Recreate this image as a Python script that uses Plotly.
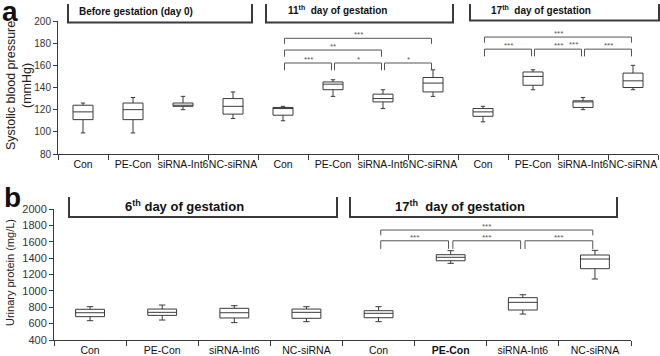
import plotly.graph_objects as go

# ---------------- data ----------------
categories = ["Con", "PE-Con", "siRNA-Int6", "NC-siRNA"]

# Panel a: systolic blood pressure (mmHg), groups: day 0, 11th day, 17th day
sbp_groups = ["Before gestation (day 0)", "11<sup>th</sup>  day of gestation", "17<sup>th</sup>  day of gestation"]
sbp_low = [[99, 99, 120, 112], [110, 132, 121, 132], [109, 138, 120, 138]]
sbp_q1 = [[111, 111, 123, 116], [115, 138, 127, 136], [114, 142, 122, 140]]
sbp_med = [[118, 120, 124, 123], [121, 143, 130, 144], [118, 150, 127, 146]]
sbp_q3 = [[124, 126, 126, 130], [122, 145, 134, 149], [121, 154, 128, 153]]
sbp_high = [[126, 131, 132, 136], [123, 147, 138, 156], [123, 156, 131, 160]]

# Panel b: urinary protein (mg/L), groups: 6th day, 17th day
up_groups = ["6<sup>th</sup> day of gestation", "17<sup>th</sup>  day of gestation"]
up_low = [[636, 644, 612, 624], [624, 1336, 717, 1145]]
up_q1 = [[685, 701, 669, 665], [672, 1368, 766, 1271]]
up_med = [[733, 738, 733, 738], [726, 1410, 860, 1389]]
up_q3 = [[775, 778, 787, 778], [758, 1442, 917, 1438]]
up_high = [[807, 827, 819, 807], [807, 1491, 953, 1495]]
up_ticktext = ["Con", "PE-Con", "siRNA-Int6", "NC-siRNA",
               "Con", "<b>PE-Con</b>", "siRNA-Int6", "NC-siRNA"]

# significance comparisons: (group, cat i, cat j, label)
sig_a = [(1, 0, 3, "***"), (1, 0, 2, "**"), (1, 2, 3, "*"), (1, 0, 1, "***"), (1, 1, 2, "*"),
         (2, 0, 3, "***"), (2, 0, 1, "***"), (2, 1, 2, "***"), (2, 2, 3, "***")]
sig_b = [(1, 0, 3, "***"), (1, 0, 1, "***"), (1, 1, 2, "***"), (1, 2, 3, "***")]

# ---------------- layout helpers ----------------
W, H = 660, 356
def px(x):
    return x / W
def py(y):
    return 1 - y / H

FONT = "Liberation Sans, Arial, sans-serif"
LINE = "#3a3a3a"
n = len(categories)

def flat(v):
    return [x for row in v for x in row]

fig = go.Figure()

pos_a = [g * n + c for g in range(len(sbp_groups)) for c in range(n)]
fig.add_trace(go.Box(
    x=pos_a, q1=flat(sbp_q1), median=flat(sbp_med), q3=flat(sbp_q3),
    lowerfence=flat(sbp_low), upperfence=flat(sbp_high),
    width=0.4, whiskerwidth=0.22, fillcolor="white",
    line=dict(color=LINE, width=1), xaxis="x", yaxis="y",
    showlegend=False, hoverinfo="skip"))

pos_b = [g * n + c for g in range(len(up_groups)) for c in range(n)]
fig.add_trace(go.Box(
    x=pos_b, q1=flat(up_q1), median=flat(up_med), q3=flat(up_q3),
    lowerfence=flat(up_low), upperfence=flat(up_high),
    width=0.4, whiskerwidth=0.22, fillcolor="white",
    line=dict(color=LINE, width=1), xaxis="x2", yaxis="y2",
    showlegend=False, hoverinfo="skip"))

na = len(pos_a)
nb = len(pos_b)

common_x = dict(showgrid=False, zeroline=False, showline=True, linecolor=LINE, linewidth=1,
                ticks="", tickmode="array", tickangle=0, fixedrange=True, automargin=False)
common_y = dict(showgrid=False, zeroline=False, showline=True, linecolor=LINE, linewidth=1,
                ticks="outside", ticklen=4, tickcolor=LINE, fixedrange=True, automargin=False)

fig.update_layout(
    width=W, height=H, margin=dict(l=0, r=0, t=0, b=0, autoexpand=False),
    paper_bgcolor="white", plot_bgcolor="white",
    font=dict(family=FONT, color="#111"),
    xaxis=dict(common_x, domain=[px(58), px(658)], range=[-0.5, na - 0.5], anchor="y",
               tickvals=pos_a, ticktext=categories * len(sbp_groups),
               tickfont=dict(size=10.5, color="#111"),
               minor=dict(tickmode="array", tickvals=[p - 0.5 for p in pos_a] + [na - 0.5],
                          ticks="outside", ticklen=5, tickcolor=LINE, showgrid=False)),
    yaxis=dict(common_y, domain=[py(154), py(21)], range=[80, 200], dtick=20, anchor="x",
               tickfont=dict(size=10, color="#333")),
    xaxis2=dict(common_x, domain=[px(54), px(631)], range=[-0.5, nb - 0.5], anchor="y2",
                tickvals=pos_b, ticktext=up_ticktext,
                tickfont=dict(size=10.5, color="#111"),
                minor=dict(tickmode="array", tickvals=[p - 0.5 for p in pos_b] + [nb - 0.5],
                           ticks="outside", ticklen=5, tickcolor=LINE, showgrid=False)),
    yaxis2=dict(common_y, domain=[py(340), py(209)], range=[400, 2000], dtick=200, anchor="x2",
                tickfont=dict(size=11, color="#333")),
)

shapes = []
annotations = []

# ---------------- header brackets ----------------
hdr_a = [(68, 252, 4, 22.5, 136, 12), (266, 453, 4, 22.5, 337, 10), (470, 659, 4, 20.5, 541, 10)]
for (x0, x1, y0, y1, tx, ty), label in zip(hdr_a, sbp_groups):
    shapes.append(dict(type="path", xref="paper", yref="paper",
                       path=f"M {px(x0)} {py(y0)} L {px(x0)} {py(y1)} L {px(x1)} {py(y1)} L {px(x1)} {py(y0)}",
                       line=dict(color=LINE, width=2)))
    annotations.append(dict(xref="paper", yref="paper", x=px(tx), y=py(ty), text=f"<b>{label}</b>",
                            showarrow=False, font=dict(size=10, color="#111"),
                            xanchor="center", yanchor="middle"))

hdr_b = [(69, 337, 197, 217, 185, 206), (350, 617, 197, 217, 460, 206)]
for (x0, x1, y0, y1, tx, ty), label in zip(hdr_b, up_groups):
    shapes.append(dict(type="path", xref="paper", yref="paper",
                       path=f"M {px(x0)} {py(y0)} L {px(x0)} {py(y1)} L {px(x1)} {py(y1)} L {px(x1)} {py(y0)}",
                       line=dict(color=LINE, width=2)))
    annotations.append(dict(xref="paper", yref="paper", x=px(tx), y=py(ty), text=f"<b>{label}</b>",
                            showarrow=False, font=dict(size=13, color="#111"),
                            xanchor="center", yanchor="middle"))

# ---------------- significance brackets ----------------
def add_sig(sig, xref, yref, levels_by_span, drop_by_span, inset):
    for g, i, j, lab in sig:
        span = j - i
        lvl = levels_by_span[g][span]
        drop = drop_by_span[span]
        xa = g * n + i + inset
        xb = g * n + j - inset
        shapes.append(dict(type="path", xref=xref, yref=yref,
                           path=f"M {xa} {lvl - drop} L {xa} {lvl} L {xb} {lvl} L {xb} {lvl - drop}",
                           line=dict(color="#555", width=1)))
        annotations.append(dict(xref=xref, yref=yref, x=(xa + xb) / 2, y=lvl, text=lab,
                                showarrow=False, font=dict(size=8, color="#555"),
                                xanchor="center", yanchor="bottom", yshift=-3))

# panel a levels (mmHg) per group and span
lv_a = {1: {1: 162.1, 2: 173.8, 3: 184.4}, 2: {1: 174.6, 3: 185.5}}
add_sig(sig_a, "x", "y", lv_a, {1: 6.5, 2: 6.0, 3: 5.0}, 0.03)
# extra label in 17th-day group
annotations.append(dict(xref="x", yref="y", x=2 * n + 1.8, y=lv_a[2][1] + 1.2, text="***",
                        showarrow=False, font=dict(size=8, color="#555"),
                        xanchor="center", yanchor="bottom", yshift=-3))

lv_b = {1: {1: 1612, 3: 1743}}
add_sig(sig_b, "x2", "y2", lv_b, {1: 100, 3: 65}, 0.03)

# ---------------- axis titles and panel letters ----------------
annotations.append(dict(xref="paper", yref="paper", x=px(19), y=py(86),
                        text="Systolic blood pressure<br>(mmHg)", textangle=-90,
                        showarrow=False, font=dict(size=12.5, color="#222"),
                        xanchor="center", yanchor="middle"))
annotations.append(dict(xref="paper", yref="paper", x=px(10), y=py(273),
                        text="Urinary protein (mg/L)", textangle=-90,
                        showarrow=False, font=dict(size=11, color="#222"),
                        xanchor="center", yanchor="middle"))
annotations.append(dict(xref="paper", yref="paper", x=px(0), y=py(11),
                        text="<b>a</b>", showarrow=False, font=dict(size=28, color="#111"),
                        xanchor="left", yanchor="middle"))
annotations.append(dict(xref="paper", yref="paper", x=px(2), y=py(197),
                        text="<b>b</b>", showarrow=False, font=dict(size=28, color="#111"),
                        xanchor="left", yanchor="middle"))

fig.update_layout(shapes=shapes, annotations=annotations)
fig.write_html("out.html", config={"displayModeBar": False},
               post_script="document.body.style.margin='0';document.body.style.overflow='hidden';")
